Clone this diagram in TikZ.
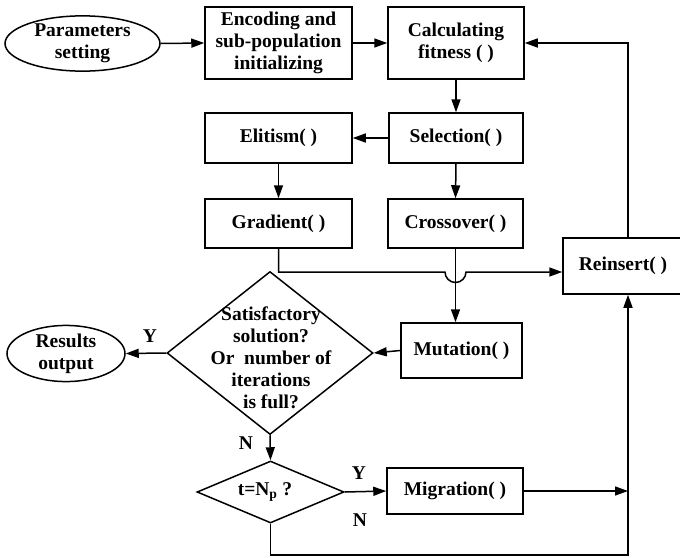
\documentclass[tikz,border=0pt]{standalone}
\usepackage{fontspec}
\setmainfont{Liberation Serif}
\usetikzlibrary{arrows.meta,shapes.geometric}

\begin{document}
\begin{tikzpicture}[x=1pt,y=1pt,
  every node/.style={font=\fontsize{19.5}{22}\selectfont\bfseries, align=center, inner sep=0pt},
  box/.style={draw, line width=1.5pt, rectangle},
  oval/.style={draw, line width=1.5pt, ellipse},
  decision/.style={draw, line width=1.5pt, diamond},
  flow/.style={line width=1.5pt},
  arr/.style={flow, -{Triangle[length=13pt,width=9pt]}},
  lbl/.style={font=\fontsize{19.5}{22}\selectfont\bfseries}
]
\useasboundingbox (0,0) rectangle (680,-557);
\clip (0,0) rectangle (680,-557);

% start and end ovals
\node[oval, minimum width=155, minimum height=47] (par) at (82.5,-43.5) {Parameters\\setting};
\node[oval, minimum width=118, minimum height=47] (res) at (66,-353.5) {Results\\output};

% process boxes
\node[box, minimum width=147, minimum height=72] (enc) at (278.5,-43) {Encoding and\\sub-population\\initializing};
\node[box, minimum width=136, minimum height=72] (calc) at (456,-43) {Calculating\\fitness ( )};
\node[box, minimum width=134, minimum height=50] (sel) at (456,-138) {Selection( )};
\node[box, minimum width=147, minimum height=50] (eli) at (278.5,-138) {Elitism( )};
\node[box, minimum width=147, minimum height=49] (grad) at (278.5,-223.5) {Gradient( )};
\node[box, minimum width=135, minimum height=49] (cross) at (455.5,-223.5) {Crossover( )};
\node[box, minimum width=121, minimum height=55] (mut) at (461.5,-350.5) {Mutation( )};
\node[box, minimum width=120, minimum height=56] (reins) at (623,-266) {Reinsert( )};
\node[box, minimum width=136, minimum height=46] (mig) at (455,-491) {Migration( )};

% decisions
\node[decision, minimum width=206, minimum height=163] (dec) at (270,-353) {};
\node (dectext) at (271,-358) {Satisfactory\\solution?\\Or\ \ number of\\iterations\\is full?};
\node[decision, minimum width=147, minimum height=62] (mig?) at (270.5,-492) {};
\node (migtext) at (265,-492) {t=N\textsubscript{p} ?};

% helper coordinates
\coordinate (loopx) at (628,0);
\coordinate (hopy) at (0,-272);
\coordinate (bottomy) at (0,-555);

% main flow
\draw[arr] (par.east) -- (enc.west);
\draw[arr] (enc.east) -- (calc.west);
\draw[arr] (calc.south) -- (sel.north);
\draw[arr] (sel.west) -- (eli.east);
\draw[arr] (eli.south) -- (grad.north);
\draw[arr] (sel.south) -- (cross.north);
\draw[arr] (cross.south) -- (cross.south |- mut.north);
\draw[arr] (grad.south) |- ([xshift=-10.5pt]cross.south |- hopy)
  arc[start angle=180, end angle=360, radius=10.5] -- (reins.west |- hopy);
\draw[arr] (reins.north -| loopx) |- (calc.east);
\draw[arr] (mut.west) -- (dec.east);
\draw[arr] (dec.west) -- (res.east);
\draw[arr] (dec.south) -- (mig?.north);
\draw[arr] (mig?.east) -- (mig.west);
\draw[arr] (mig.east) -- (loopx |- mig.east);
\draw[arr] (mig?.south) |- (loopx |- bottomy) -- (loopx |- reins.south);

% branch labels
\node[lbl] (y1) at (150,-336) {Y};
\node[lbl] (n1) at (246,-443) {N};
\node[lbl] (y2) at (359,-473) {Y};
\node[lbl] (n2) at (360,-520) {N};
\end{tikzpicture}
\end{document}
